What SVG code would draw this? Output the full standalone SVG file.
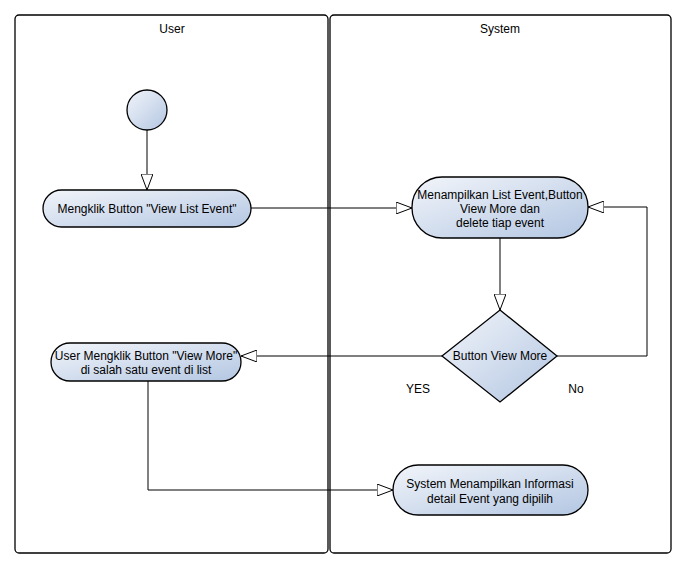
<svg xmlns="http://www.w3.org/2000/svg" width="686" height="569" viewBox="0 0 686 569">
<style>
text{font-family:"Liberation Sans",Arial,sans-serif;font-size:12px;fill:#000;text-anchor:middle}
.lane{fill:#fff;stroke:#000;stroke-width:1.3}
.node{fill:url(#g);stroke:#000;stroke-width:1.3}
.c{fill:none;stroke:#000;stroke-width:1}
</style>
<defs>
<linearGradient id="g" x1="0" y1="0" x2="1" y2="1">
<stop offset="0" stop-color="#f2f5fa"/>
<stop offset="1" stop-color="#b3c6e2"/>
</linearGradient>
<marker id="a" viewBox="0 0 16 12" refX="16" refY="6" markerWidth="16" markerHeight="12" markerUnits="userSpaceOnUse" orient="auto">
<path d="M0,0 L16,6 L0,12 Z" fill="#fff" stroke="#000" stroke-width="1"/>
</marker>
</defs>
<g id="lane-user"><rect class="lane" x="15" y="15" width="313" height="538" rx="4"/><text x="172" y="33">User</text></g>
<g id="lane-system"><rect class="lane" x="330" y="15" width="341" height="538" rx="4"/><text x="500" y="33">System</text></g>
<g id="connectors">
<path class="c" d="M147,130 V190" marker-end="url(#a)"/>
<path class="c" d="M251,208 H412" marker-end="url(#a)"/>
<path class="c" d="M500,238 V310" marker-end="url(#a)"/>
<path class="c" d="M557,356 H647 V207 H588" marker-end="url(#a)"/>
<path class="c" d="M442,356 H241" marker-end="url(#a)"/>
<path class="c" d="M148,381 V490 H393" marker-end="url(#a)"/>
</g>
<g id="start"><circle class="node" cx="147" cy="110" r="20"/></g>
<g id="n1"><rect class="node" x="43" y="190" width="208" height="37" rx="18.5"/><text x="147" y="213">Mengklik Button "View List Event"</text></g>
<g id="n2"><rect class="node" x="412" y="177" width="176" height="61" rx="30"/><text x="500" y="199">Menampilkan List Event,Button</text><text x="500" y="213">View More dan</text><text x="500" y="227">delete tiap event</text></g>
<g id="d1"><path class="node" d="M500,310 L557,356 L500,402 L442,356 Z"/><text x="500" y="360">Button View More</text></g>
<g id="n3"><rect class="node" x="51" y="343" width="190" height="38" rx="19"/><text x="146" y="360">User Mengklik Button "View More"</text><text x="146" y="374">di salah satu event di list</text></g>
<g id="n4"><rect class="node" x="393" y="465" width="195" height="50" rx="25"/><text x="490" y="488">System Menampilkan Informasi</text><text x="490" y="503">detail Event yang dipilih</text></g>
<g id="labels"><text x="418" y="393">YES</text><text x="576" y="393">No</text></g>
</svg>
